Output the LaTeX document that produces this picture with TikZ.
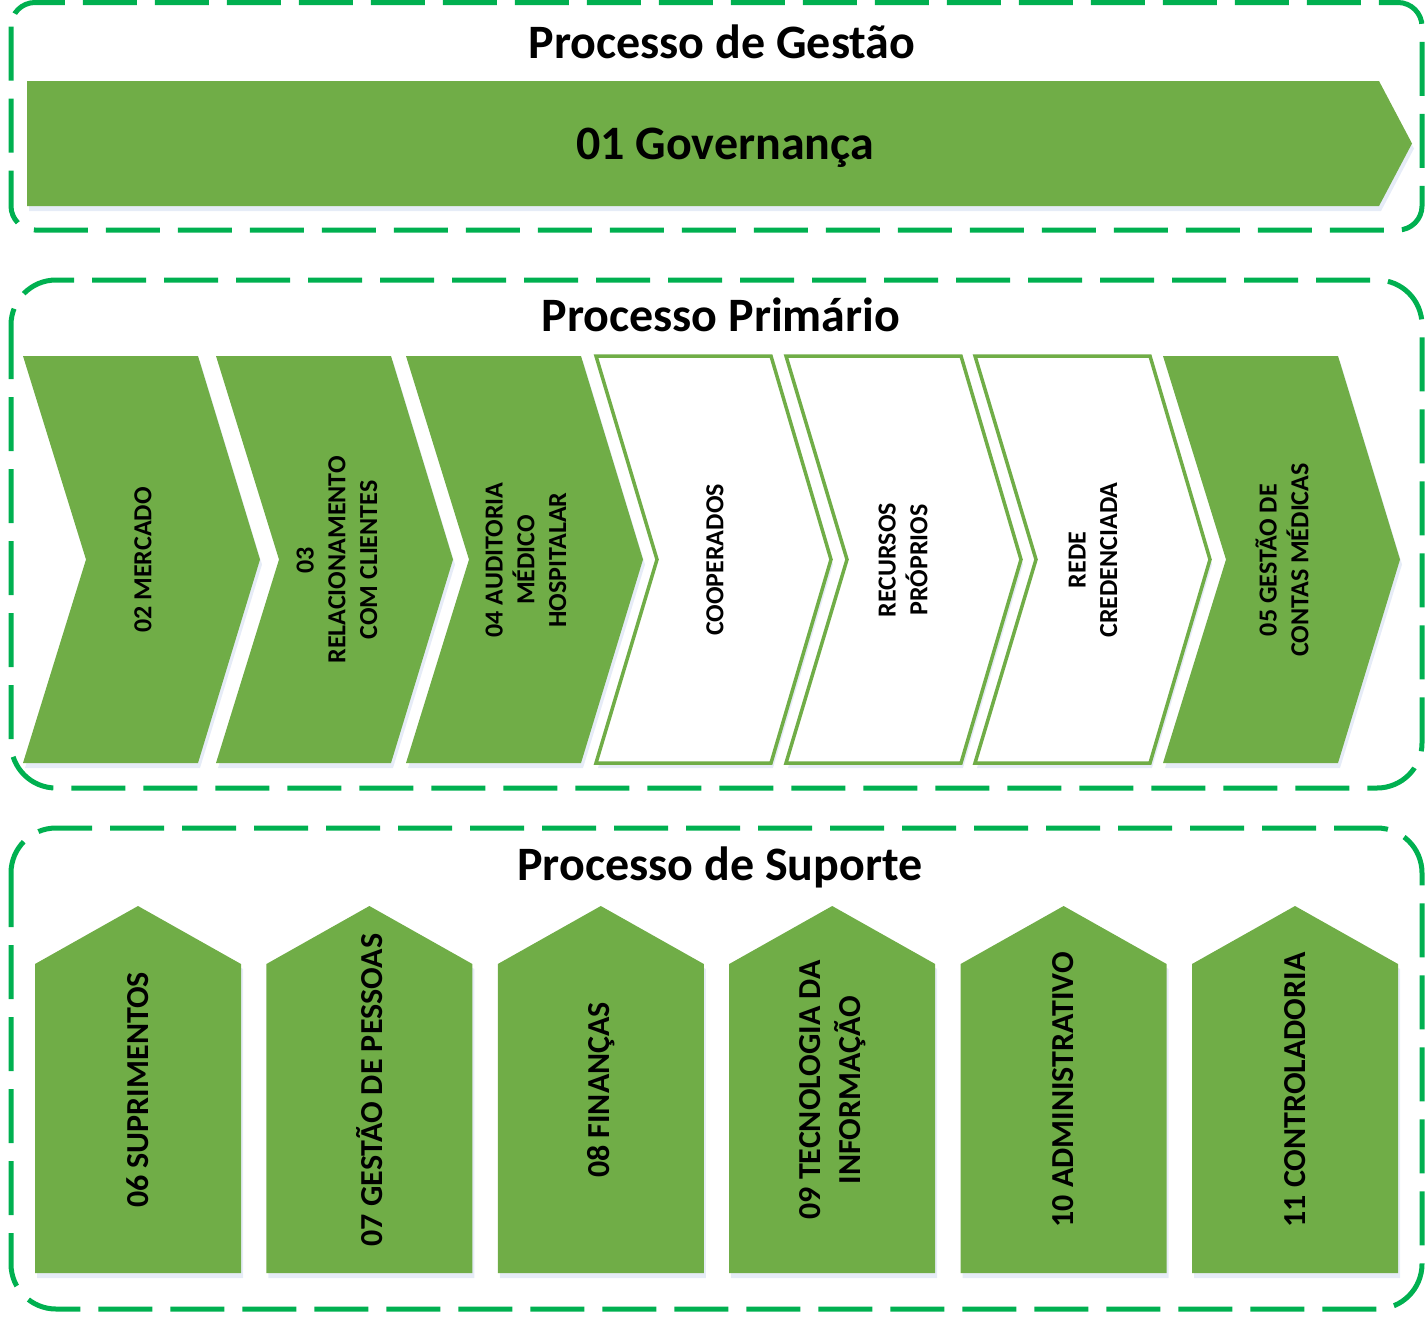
\documentclass[tikz,border=0pt]{standalone}
\usepackage{fontspec}
\setmainfont{Carlito}
\usetikzlibrary{shadows}

\definecolor{procgreen}{HTML}{70AD47}
\definecolor{boxgreen}{HTML}{00B050}
\definecolor{shadowblue}{HTML}{E6ECF7}

\tikzset{
  framebox/.style = {draw=boxgreen, line width=5pt, dash pattern=on 54pt off 18pt},
  fullstep/.style = {fill=procgreen, drop shadow={shadow xshift=2pt, shadow yshift=-5pt, fill=shadowblue, opacity=1}},
  openstep/.style = {draw=procgreen, line width=3.5pt, fill=white, drop shadow={shadow xshift=2pt, shadow yshift=-5pt, fill=shadowblue, opacity=1}},
  titletext/.style = {anchor=base, inner sep=0pt, font=\fontsize{48}{58}\selectfont\bfseries},
  steptext/.style = {rotate=90, align=center, inner sep=0pt, font=\fontsize{26}{31.7}\selectfont\bfseries},
  supptext/.style = {rotate=90, align=center, inner sep=0pt, font=\fontsize{32}{40}\selectfont\bfseries}
}

\begin{document}
\begin{tikzpicture}[x=1pt, y=-1pt]

\useasboundingbox (0,0) rectangle (1427,1318);

% frames
\draw[framebox, rounded corners=24pt] (11,2.5) rectangle (1422,230);
\draw[framebox, rounded corners=45pt] (11,280) rectangle (1422,788);
\draw[framebox, rounded corners=45pt] (11,828) rectangle (1422,1309);

% Processo de Gestao
\node[titletext] (gestao) at (722,58) {Processo de Gestão};
\fill[fullstep] (27,81) -- (1379,81) -- (1412,143.5) -- (1379,206) -- (27,206) -- cycle;
\node[titletext] (governanca) at (725,159) {01 Governança};

% Processo Primario
\node[titletext] (primario) at (721,331) {Processo Primário};

\fill[fullstep] (23,356) -- (198,356) -- (260,559.5) -- (198,763) -- (23,763) -- (86,559.5) -- cycle;
\fill[fullstep] (216,356) -- (391,356) -- (453,559.5) -- (391,763) -- (216,763) -- (279,559.5) -- cycle;
\fill[fullstep] (406,356) -- (581,356) -- (643,559.5) -- (581,763) -- (406,763) -- (469,559.5) -- cycle;
\draw[openstep] (596,356) -- (771,356) -- (831,559.5) -- (771,763) -- (596,763) -- (657,559.5) -- cycle;
\draw[openstep] (786,356) -- (961,356) -- (1021,559.5) -- (961,763) -- (786,763) -- (847,559.5) -- cycle;
\draw[openstep] (975,356) -- (1150,356) -- (1210,559.5) -- (1150,763) -- (975,763) -- (1036,559.5) -- cycle;
\fill[fullstep] (1163,356) -- (1338,356) -- (1400,559.5) -- (1338,763) -- (1163,763) -- (1226,559.5) -- cycle;

\node[steptext] (mercado) at (143,560) {02 MERCADO};
\node[steptext] (relacionamento) at (337,560) {03\\RELACIONAMENTO\\COM CLIENTES};
\node[steptext] (auditoria) at (526,560) {04 AUDITORIA\\MÉDICO\\HOSPITALAR};
\node[steptext] (cooperados) at (715,560) {COOPERADOS};
\node[steptext] (recursos) at (903,560) {RECURSOS\\PRÓPRIOS};
\node[steptext] (rede) at (1093,560) {REDE\\CREDENCIADA};
\node[steptext] (contas) at (1282,560) {05 GESTÃO DE\\CONTAS MÉDICAS};

% Processo de Suporte
\node[titletext] (suporte) at (720,880) {Processo de Suporte};

\fill[fullstep] (35,964) -- (138,906) -- (241,964) -- (241,1273) -- (35,1273) -- cycle;
\fill[fullstep] (266.4,964) -- (369.4,906) -- (472.4,964) -- (472.4,1273) -- (266.4,1273) -- cycle;
\fill[fullstep] (497.8,964) -- (600.8,906) -- (703.8,964) -- (703.8,1273) -- (497.8,1273) -- cycle;
\fill[fullstep] (729.2,964) -- (832.2,906) -- (935.2,964) -- (935.2,1273) -- (729.2,1273) -- cycle;
\fill[fullstep] (960.6,964) -- (1063.6,906) -- (1166.6,964) -- (1166.6,1273) -- (960.6,1273) -- cycle;
\fill[fullstep] (1192,964) -- (1295,906) -- (1398,964) -- (1398,1273) -- (1192,1273) -- cycle;

\node[supptext] (suprimentos) at (138,1090) {06 SUPRIMENTOS};
\node[supptext] (pessoas) at (369.4,1090) {07 GESTÃO DE PESSOAS};
\node[supptext] (financas) at (600.8,1090) {08 FINANÇAS};
\node[supptext] (tecnologia) at (833,1090) {09 TECNOLOGIA DA\\INFORMAÇÃO};
\node[supptext] (administrativo) at (1063.6,1090) {10 ADMINISTRATIVO};
\node[supptext] (controladoria) at (1295,1090) {11 CONTROLADORIA};

\end{tikzpicture}
\end{document}
